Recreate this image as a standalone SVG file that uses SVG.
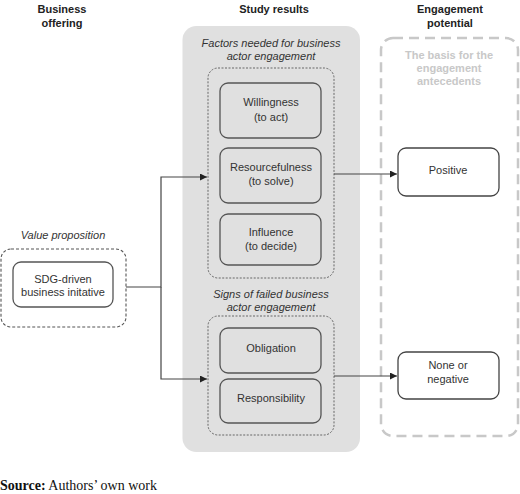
<svg xmlns="http://www.w3.org/2000/svg" width="520" height="494" viewBox="0 0 520 494">
<defs>
<style>
text{font-family:"Liberation Sans",Arial,sans-serif;font-size:11px;fill:#333;text-anchor:middle}
.t{font-weight:bold;fill:#222}
.i{font-style:italic}
.g{font-weight:bold;fill:#c8c8c8}
.node{fill:none;stroke:#555;stroke-width:1.3}
.wnode{fill:#fff;stroke:#444;stroke-width:1.3}
.dot{fill:none;stroke:#666;stroke-width:1;stroke-dasharray:2 1.5}
.dash{fill:none;stroke:#555;stroke-width:1.1;stroke-dasharray:3 2}
.conn{fill:none;stroke:#444;stroke-width:1.2}
</style>
<marker id="ah" viewBox="0 0 10 10" refX="10" refY="5" markerWidth="7" markerHeight="7" orient="auto" markerUnits="userSpaceOnUse">
<path d="M0,0 L10,5 L0,10 z" fill="#222"/>
</marker>
</defs>
<rect width="520" height="494" fill="#fff"/>
<g id="headers">
<text class="t" x="62" y="13">Business</text>
<text class="t" x="62" y="27">offering</text>
<text class="t" x="274" y="13">Study results</text>
<text class="t" x="450" y="13">Engagement</text>
<text class="t" x="450" y="27">potential</text>
</g>
<g id="study-panel">
<rect x="182.5" y="26" width="177.5" height="426" rx="14" fill="#e0e0e0"/>
</g>
<g id="engagement-panel">
<rect x="381" y="38" width="137" height="398" rx="12" fill="none" stroke="#c8c8c8" stroke-width="2.5" stroke-dasharray="10 6"/>
<text class="g" x="449" y="59">The basis for the</text>
<text class="g" x="449" y="72">engagement</text>
<text class="g" x="449" y="85">antecedents</text>
</g>
<g id="value-proposition">
<text class="i" x="63" y="239">Value proposition</text>
<rect class="dash" x="1" y="249" width="125" height="78" rx="10"/>
</g>
<g id="sdg">
<rect class="node" x="13" y="262" width="100" height="45" rx="8"/>
<text x="63" y="283">SDG-driven</text>
<text x="63" y="296">business initative</text>
</g>
<g id="factors">
<text class="i" x="271" y="47">Factors needed for business</text>
<text class="i" x="271" y="60">actor engagement</text>
<rect class="dot" x="208" y="68" width="126" height="210" rx="10"/>
</g>
<g id="willingness">
<rect class="node" x="220" y="83" width="101" height="55" rx="8"/>
<text x="271" y="106">Willingness</text>
<text x="271" y="121">(to act)</text>
</g>
<g id="resourcefulness">
<rect class="node" x="220" y="148" width="101" height="55" rx="8"/>
<text x="271" y="171">Resourcefulness</text>
<text x="271" y="185">(to solve)</text>
</g>
<g id="influence">
<rect class="node" x="220" y="214" width="101" height="51" rx="8"/>
<text x="271" y="236">Influence</text>
<text x="271" y="250">(to decide)</text>
</g>
<g id="signs">
<text class="i" x="271" y="298">Signs of failed business</text>
<text class="i" x="271" y="311">actor engagement</text>
<rect class="dot" x="208" y="316" width="126" height="119" rx="10"/>
</g>
<g id="obligation">
<rect class="node" x="220" y="328" width="101" height="45" rx="8"/>
<text x="271" y="352">Obligation</text>
</g>
<g id="responsibility">
<rect class="node" x="220" y="379" width="101" height="44" rx="8"/>
<text x="271" y="402">Responsibility</text>
</g>
<g id="positive">
<rect class="wnode" x="398" y="148" width="101" height="48" rx="8"/>
<text x="448" y="174">Positive</text>
</g>
<g id="none-negative">
<rect class="wnode" x="398" y="352" width="101" height="47" rx="8"/>
<text x="448" y="369">None or</text>
<text x="448" y="383">negative</text>
</g>
<g id="connectors">
<path class="conn" d="M126,287 H161 V177 H207" marker-end="url(#ah)"/>
<path class="conn" d="M161,287 V379 H207" marker-end="url(#ah)"/>
<path class="conn" d="M334,174 H397" marker-end="url(#ah)"/>
<path class="conn" d="M334,376 H397" marker-end="url(#ah)"/>
</g>
<g id="source">
<text x="0" y="490" style="font-family:'Liberation Serif','Times New Roman',serif;font-size:14px;fill:#111;text-anchor:start"><tspan font-weight="bold">Source:</tspan> Authors’ own work</text>
</g>
</svg>
